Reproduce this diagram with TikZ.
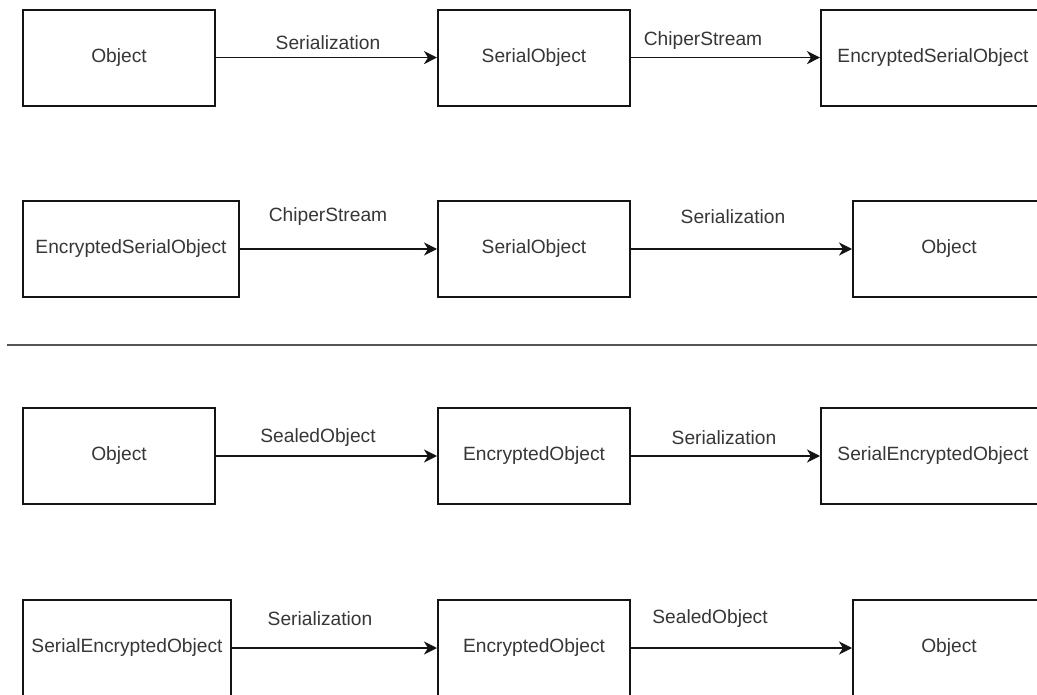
\documentclass[tikz,border=0pt]{standalone}
\usepackage{fontspec}
\setmainfont{Liberation Sans}
\usetikzlibrary{arrows.meta}
\definecolor{ink}{RGB}{20,20,20}
\definecolor{txt}{RGB}{55,55,55}
\definecolor{rule}{RGB}{85,85,85}
\tikzset{
  box/.style={draw=ink, line width=2pt, minimum height=96pt, inner sep=0pt,
              text=txt, font=\fontsize{19.2}{23}\selectfont},
  w192/.style={box, minimum width=192pt},
  w208/.style={box, minimum width=208pt},
  w216/.style={box, minimum width=216pt},
  w224/.style={box, minimum width=224pt},
  flow/.style={draw=ink, line width=1.8pt, -{Stealth[length=13pt,width=13pt,inset=4pt]}},
  lbl/.style={text=txt, font=\fontsize{19.2}{23}\selectfont, inner sep=0pt}
}
\begin{document}
\begin{tikzpicture}[x=1pt,y=-1pt]
\useasboundingbox (0,0) rectangle (1037,695);
\clip (0,0) rectangle (1037,695);
\fill[white] (0,0) rectangle (1037,695);

% first row: serialize, then encrypt
\node[w192] (a1) at (119,57.6) {Object};
\node[w192] (a2) at (534,57.6) {SerialObject};
\node[w224] (a3) at (933,57.6) {EncryptedSerialObject};
\draw[flow] (a1) -- (a2);
\draw[flow] (a2) -- (a3);
\node[lbl] (la1) at (328,43) {Serialization};
\node[lbl] (la2) at (703,41) {ChiperStream};

% second row: decrypt, then deserialize
\node[w216] (b1) at (131,249) {EncryptedSerialObject};
\node[w192] (b2) at (534,249) {SerialObject};
\node[w192] (b3) at (949,249) {Object};
\draw[flow] (b1) -- (b2);
\draw[flow] (b2) -- (b3);
\node[lbl] (lb1) at (328,217) {ChiperStream};
\node[lbl] (lb2) at (733,217) {Serialization};

% separator
\coordinate (s1) at (7,345);
\coordinate (s2) at (1045,345);
\draw[rule, line width=2.2pt] (s1) -- (s2);

% third row: seal, then serialize
\node[w192] (c1) at (119,456) {Object};
\node[w192] (c2) at (534,456) {EncryptedObject};
\node[w224] (c3) at (933,456) {SerialEncryptedObject};
\draw[flow] (c1) -- (c2);
\draw[flow] (c2) -- (c3);
\node[lbl] (lc1) at (318,438) {SealedObject};
\node[lbl] (lc2) at (724,438) {Serialization};

% fourth row: deserialize, then unseal
\node[w208] (d1) at (127,648) {SerialEncryptedObject};
\node[w192] (d2) at (534,648) {EncryptedObject};
\node[w192] (d3) at (949,648) {Object};
\draw[flow] (d1) -- (d2);
\draw[flow] (d2) -- (d3);
\node[lbl] (ld1) at (320,619) {Serialization};
\node[lbl] (ld2) at (710,619) {SealedObject};
\end{tikzpicture}
\end{document}
